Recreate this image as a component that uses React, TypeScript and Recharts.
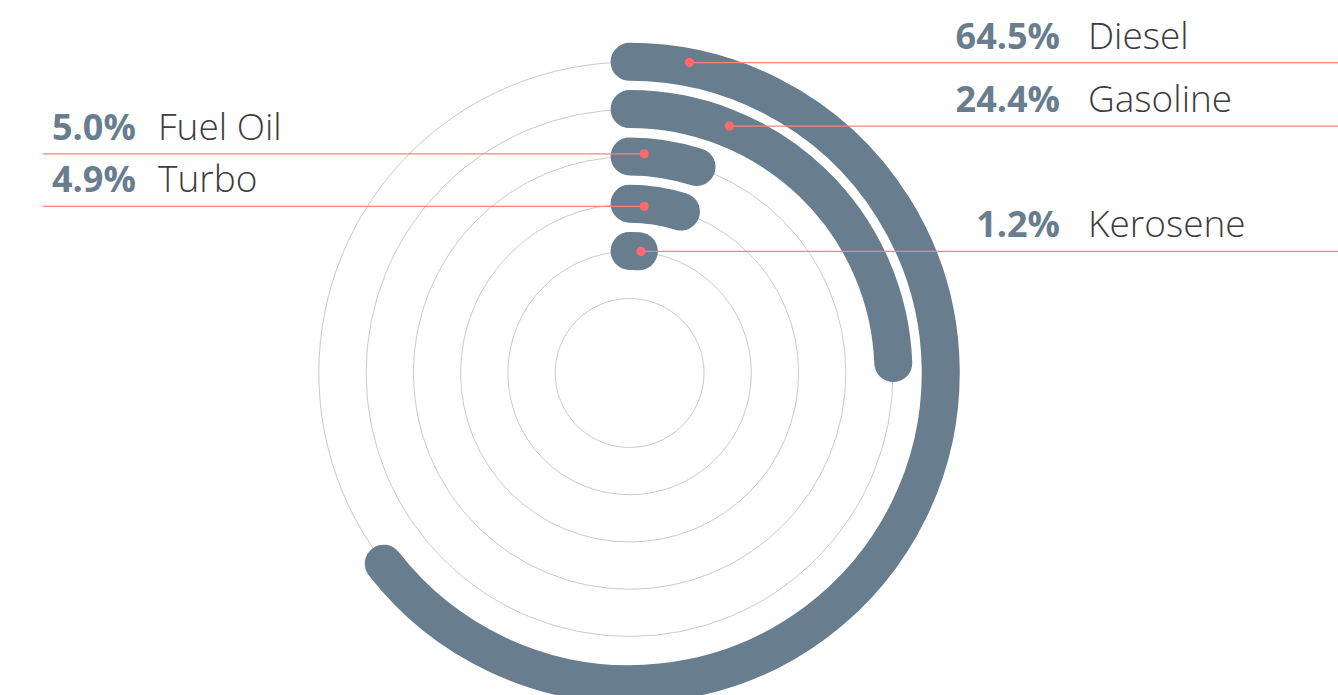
// Fuel share radial bar chart

import React from 'react';
import {
  RadialBarChart,
  RadialBar,
  PolarGrid,
  PolarAngleAxis,
  PolarRadiusAxis,
  LabelList
} from 'recharts';

// inner ring -> outer ring
const FUELS = ['Kerosene', 'Turbo', 'Fuel Oil', 'Gasoline', 'Diesel'];
const SHARES = [1.2, 4.9, 5.0, 24.4, 64.5];

// where each callout sits
const LABEL_SIDE = ['right', 'left', 'left', 'right', 'right'];
const DOT_ANGLE = [5.4, 5.0, 3.8, 22, 10.9]; // degrees clockwise from the bar start
const DOT_NUDGE = [0, -2, 3, 2.4, 5]; // px outward from the bar's centre line

const WIDTH = 1338;
const HEIGHT = 695;
const CX = 629.6;
const CY = 373;
const INNER = 98.1;
const OUTER = 334.4;
const BAR_SIZE = 38;

const BAR_COLOR = '#687d8e';
const NAME_COLOR = '#3d3d3d';
const LINE_COLOR = '#f98383';
const DOT_COLOR = '#ff6b6b';
const GRID_COLOR = '#cacaca';
const FONT = '"Open Sans", "Noto Sans", sans-serif';

const RAD = Math.PI / 180;

const band = (OUTER - INNER) / FUELS.length;
const gridRadii = Array.from({ length: FUELS.length + 1 }, (_, i) => INNER + band * (i - 0.5));

const chartData = FUELS.map((name, i) => ({ name, value: SHARES[i] }));

const ArcShape = (props: any) => {
  const { cx, cy, innerRadius, outerRadius, startAngle, endAngle } = props;
  const r = (innerRadius + outerRadius) / 2;
  const w = outerRadius - innerRadius;
  const pt = (a: number) => ({ x: cx + r * Math.cos(-a * RAD), y: cy + r * Math.sin(-a * RAD) });
  const s = pt(startAngle);
  const e = pt(endAngle);
  const large = Math.abs(startAngle - endAngle) > 180 ? 1 : 0;
  const sweep = startAngle > endAngle ? 1 : 0;
  return (
    <path
      d={`M${s.x},${s.y} A${r},${r} 0 ${large} ${sweep} ${e.x},${e.y}`}
      fill="none"
      stroke={BAR_COLOR}
      strokeWidth={w}
      strokeLinecap="round"
    />
  );
};

const Callout = (props: any) => {
  const { viewBox, value } = props;
  const i = FUELS.indexOf(value);
  if (i < 0 || !viewBox) return null;
  const { cx, cy, innerRadius, outerRadius, startAngle } = viewBox;
  const r = (innerRadius + outerRadius) / 2 + DOT_NUDGE[i];
  const a = (startAngle - DOT_ANGLE[i]) * RAD;
  const dx = cx + r * Math.cos(-a);
  const dy = cy + r * Math.sin(-a);
  const right = LABEL_SIDE[i] === 'right';
  const textY = dy - 14;
  const pct = SHARES[i].toFixed(1) + '%';
  return (
    <g>
      <line x1={dx} y1={dy} x2={right ? WIDTH : 43} y2={dy} stroke={LINE_COLOR} strokeWidth={1.3} />
      <circle cx={dx} cy={dy} r={4.6} fill={DOT_COLOR} />
      <text
        x={right ? 1060 : 52}
        y={textY}
        textAnchor={right ? 'end' : 'start'}
        fontFamily={FONT}
        fontSize={36}
        fontWeight={700}
        fill={BAR_COLOR}
      >
        {pct}
      </text>
      <text
        x={right ? 1088 : 158}
        y={textY}
        textAnchor="start"
        fontFamily={FONT}
        fontSize={37}
        fontWeight={300}
        fill={NAME_COLOR}
      >
        {FUELS[i]}
      </text>
    </g>
  );
};

export default function App() {
  return (
    <div style={{ position: 'absolute', left: 0, top: 0, width: WIDTH, height: HEIGHT, overflow: 'hidden', background: '#fff' }}>
      <RadialBarChart
        width={WIDTH}
        height={HEIGHT}
        data={chartData}
        cx={CX}
        cy={CY}
        innerRadius={INNER}
        outerRadius={OUTER}
        startAngle={90}
        endAngle={-270}
        margin={{ top: 0, right: 0, bottom: 0, left: 0 }}
      >
        <PolarGrid
          gridType="circle"
          radialLines={false}
          polarRadius={gridRadii}
          stroke={GRID_COLOR}
          strokeWidth={1}
        />
        <PolarAngleAxis type="number" domain={[0, 100]} tick={false} axisLine={false} />
        <PolarRadiusAxis type="category" dataKey="name" tick={false} axisLine={false} />
        <RadialBar
          dataKey="value"
          barSize={BAR_SIZE}
          shape={ArcShape}
          isAnimationActive={false}
        >
          <LabelList dataKey="name" content={Callout} />
        </RadialBar>
      </RadialBarChart>
    </div>
  );
}
